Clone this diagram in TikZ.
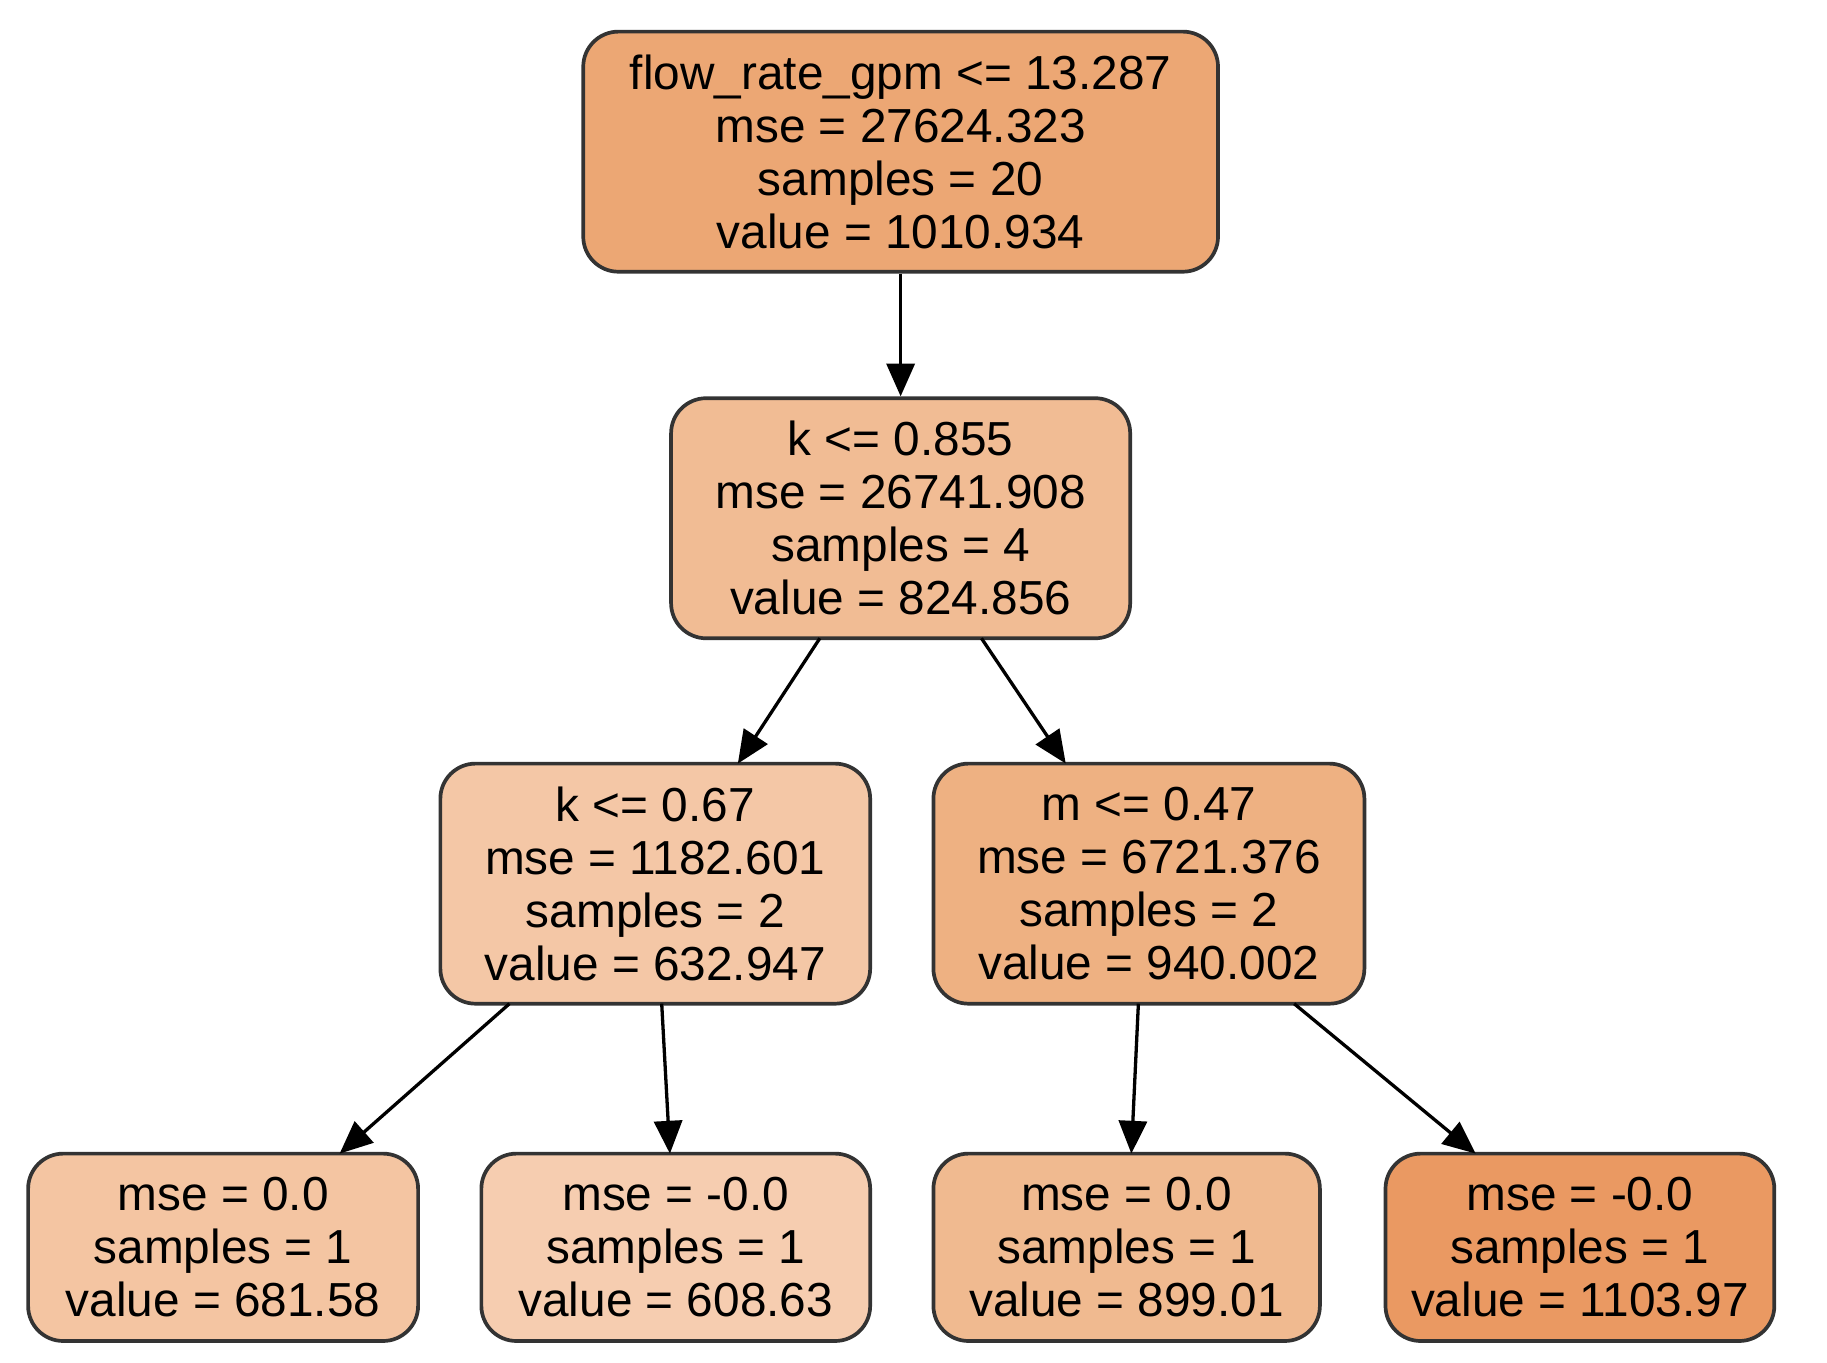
\documentclass[tikz,border=0pt]{standalone}
\usepackage{fontspec}
\setmainfont{Liberation Sans}
\usetikzlibrary{arrows.meta}
\definecolor{c0}{RGB}{236,167,116}
\definecolor{c1}{RGB}{241,188,148}
\definecolor{c2}{RGB}{244,199,166}
\definecolor{c3}{RGB}{238,177,130}
\definecolor{l1}{RGB}{244,197,162}
\definecolor{l2}{RGB}{246,205,176}
\definecolor{l3}{RGB}{240,186,144}
\definecolor{l4}{RGB}{234,153,98}
\tikzset{tnode/.style={draw=black!80,line width=0.9pt,rounded corners=0.3cm,align=center,
  font=\fontsize{11.6}{12.9}\selectfont,inner sep=0pt},
  edge/.style={-{Triangle[length=0.28cm,width=0.24cm]},line width=0.8pt}}
\begin{document}
\begin{tikzpicture}
\useasboundingbox (0,0) rectangle (15.6,-11.63);
\node[tnode,fill=c0,minimum width=5.42cm,minimum height=2.05cm] (r) at (7.69,-1.295) {flow\_rate\_gpm <= 13.287\\mse = 27624.323\\samples = 20\\value = 1010.934};
\node[tnode,fill=c1,minimum width=3.92cm,minimum height=2.05cm] (a) at (7.69,-4.425) {k <= 0.855\\mse = 26741.908\\samples = 4\\value = 824.856};
\node[tnode,fill=c2,minimum width=3.67cm,minimum height=2.05cm] (b) at (5.595,-7.545) {k <= 0.67\\mse = 1182.601\\samples = 2\\value = 632.947};
\node[tnode,fill=c3,minimum width=3.68cm,minimum height=2.05cm] (c) at (9.81,-7.545) {m <= 0.47\\mse = 6721.376\\samples = 2\\value = 940.002};
\node[tnode,fill=l1,minimum width=3.33cm,minimum height=1.6cm] (d) at (1.905,-10.65) {mse = 0.0\\samples = 1\\value = 681.58};
\node[tnode,fill=l2,minimum width=3.32cm,minimum height=1.6cm] (e) at (5.77,-10.65) {mse = -0.0\\samples = 1\\value = 608.63};
\node[tnode,fill=l3,minimum width=3.3cm,minimum height=1.6cm] (f) at (9.62,-10.65) {mse = 0.0\\samples = 1\\value = 899.01};
\node[tnode,fill=l4,minimum width=3.32cm,minimum height=1.6cm] (g) at (13.49,-10.65) {mse = -0.0\\samples = 1\\value = 1103.97};
\draw[edge] (r) -- (a);
\draw[edge] (7.0,-5.45) -- (6.3,-6.52);
\draw[edge] (8.38,-5.45) -- (9.1,-6.52);
\draw[edge] (4.35,-8.57) -- (2.9,-9.85);
\draw[edge] (5.65,-8.57) -- (5.72,-9.85);
\draw[edge] (9.72,-8.57) -- (9.66,-9.85);
\draw[edge] (11.05,-8.57) -- (12.6,-9.85);
\end{tikzpicture}
\end{document}
